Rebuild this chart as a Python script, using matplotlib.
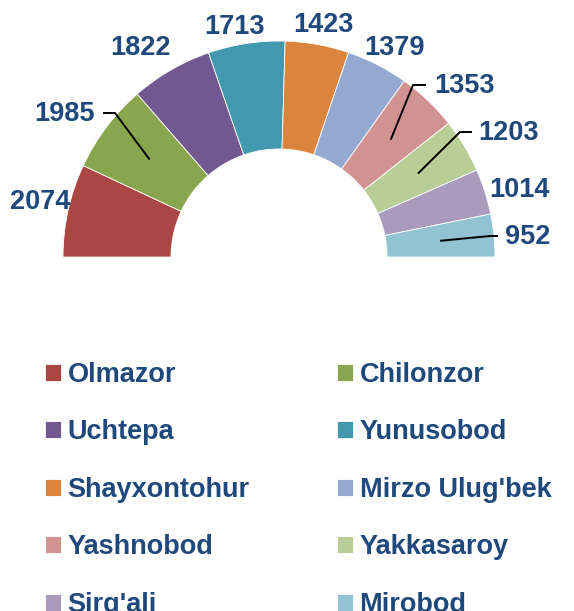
import matplotlib
matplotlib.use("Agg")
import matplotlib.pyplot as plt
import numpy as np

districts = ["Olmazor", "Chilonzor", "Uchtepa", "Yunusobod", "Shayxontohur",
             "Mirzo Ulug'bek", "Yashnobod", "Yakkasaroy", "Sirg'ali", "Mirobod"]
counts = [2074, 1985, 1822, 1713, 1423, 1379, 1353, 1203, 1014, 952]
colors = ["#AA4643", "#89A54E", "#71588F", "#4198AF", "#DB843D",
          "#93A9CF", "#D19392", "#B9CD96", "#A99BBD", "#92C3D3"]

TEXT = "#1F497D"
W, H = 574, 611
CX, CY = 279, H - 257        # ring centre, axes units == pixels
R_OUT, R_IN = 216, 108

# label centres (pixels from top-left) and optional leader elbow
label_xy = [(40, 202), (64, 114), (141, 48), (235, 27), (323, 25),
            (395, 48), (464, 86), (509, 133), (519, 190), (528, 237)]
leader = {1: [(103, 113), (115, 113)],
          6: [(426, 85), (413, 85)],
          7: [(472, 132), (460, 132)],
          9: [(498, 236), (490, 236)]}

plt.rcParams["font.family"] = ["Liberation Sans", "DejaVu Sans"]
plt.rcParams["font.weight"] = "bold"

fig = plt.figure(figsize=(W / 100, H / 100), dpi=100)
ax = fig.add_axes([0, 0, 1, 1])

total = sum(counts)
# extra invisible slice fills the lower half so the ring spans 180 degrees
wedges, _ = ax.pie(counts + [total], colors=colors + ["none"],
                   startangle=180, counterclock=False,
                   center=(CX, CY), radius=R_OUT,
                   wedgeprops=dict(width=R_OUT - R_IN, edgecolor="white",
                                   linewidth=0.6))
wedges[-1].set_edgecolor("none")
ax.set_xlim(0, W)
ax.set_ylim(0, H)
ax.set_aspect("equal")
ax.axis("off")

cum = np.cumsum([0] + counts)
r_mid = (R_OUT + R_IN) / 2
for i, v in enumerate(counts):
    mid = np.deg2rad(180 - (cum[i] + v / 2) / total * 180)
    lx, ly = label_xy[i]
    ax.text(lx, H - ly, f"{v}", ha="center", va="center",
            fontsize=19.5, fontweight="bold", color=TEXT)
    if i in leader:
        pts = [(p[0], H - p[1]) for p in leader[i]]
        pts.append((CX + r_mid * np.cos(mid), CY + r_mid * np.sin(mid)))
        xs, ys = zip(*pts)
        ax.plot(xs, ys, color="black", lw=1.4, solid_capstyle="butt")

# legend laid out row by row: left column gets even items, right odd
order = list(range(0, 10, 2)) + list(range(1, 10, 2))
leg = fig.legend([wedges[k] for k in order], [districts[k] for k in order],
                 ncol=2, loc="upper left",
                 bbox_to_anchor=(45 / W, 1 - 362 / H),
                 frameon=False, fontsize=19.5, labelcolor=TEXT,
                 handlelength=0.58, handleheight=0.58, handletextpad=0.25,
                 columnspacing=3.23, labelspacing=1.16, borderpad=0,
                 borderaxespad=0)
for t in leg.get_texts():
    t.set_fontweight("bold")

fig.savefig("out.png", dpi=100)
